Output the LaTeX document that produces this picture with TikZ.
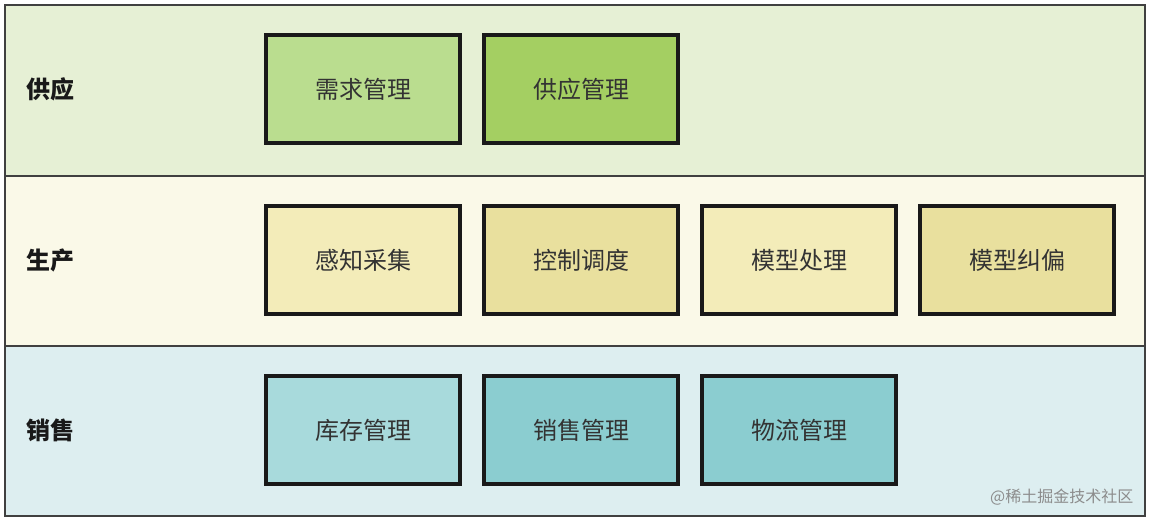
\documentclass[tikz,border=0pt]{standalone}
\usepackage{fontspec}
\newfontfamily\cjk{Noto Sans CJK SC}
\begin{document}
\begin{tikzpicture}[x=0.75pt,y=-0.75pt,
 band/.style={draw=black!75,line width=1pt},
 box/.style={draw=black!90,line width=2.3pt,minimum width=145.5pt,minimum height=81pt,inner sep=0pt,font=\cjk\fontsize{18}{21}\selectfont,text=black!80},
 lab/.style={anchor=west,font=\cjk\bfseries\fontsize{18}{21}\selectfont,text=black!90}]
\useasboundingbox (0,0) rectangle (1152,524);
\fill[white] (0,0) rectangle (1152,524);
\path[band,fill={rgb,255:red,230;green,240;blue,213}] (5,5) rectangle (1145,176);
\path[band,fill={rgb,255:red,250;green,249;blue,232}] (5,176) rectangle (1145,346);
\path[band,fill={rgb,255:red,221;green,238;blue,240}] (5,346) rectangle (1145,516);
\node[lab] (l1) at (22,89) {供应};
\node[lab] (l2) at (22,260) {生产};
\node[lab] (l3) at (22,430) {销售};
\node[box,fill={rgb,255:red,186;green,221;blue,143}] (a1) at (363,89) {需求管理};
\node[box,fill={rgb,255:red,164;green,207;blue,98}] (a2) at (581,89) {供应管理};
\node[box,fill={rgb,255:red,243;green,236;blue,185}] (b1) at (363,260) {感知采集};
\node[box,fill={rgb,255:red,233;green,224;blue,158}] (b2) at (581,260) {控制调度};
\node[box,fill={rgb,255:red,243;green,236;blue,185}] (b3) at (799,260) {模型处理};
\node[box,fill={rgb,255:red,233;green,224;blue,158}] (b4) at (1017,260) {模型纠偏};
\node[box,fill={rgb,255:red,168;green,218;blue,220}] (c1) at (363,430) {库存管理};
\node[box,fill={rgb,255:red,139;green,205;blue,208}] (c2) at (581,430) {销售管理};
\node[box,fill={rgb,255:red,139;green,205;blue,208}] (c3) at (799,430) {物流管理};
\node[anchor=east,text=black!45,font=\cjk\fontsize{12}{14}\selectfont] (wm) at (1138,497) {@稀土掘金技术社区};
\end{tikzpicture}
\end{document}
